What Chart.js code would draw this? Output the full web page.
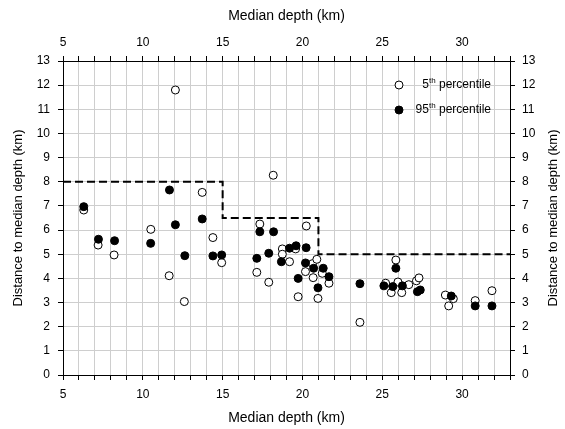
<!DOCTYPE html>
<html>
<head>
<meta charset="utf-8">
<script src="https://cdn.jsdelivr.net/npm/chart.js@4"></script>
<style>
  html, body { margin: 0; padding: 0; background: #fff; }
  #wrap { width: 565px; height: 429px; }
</style>
</head>
<body>
<div id="wrap"><canvas id="depthChart" width="565" height="429"></canvas></div>
<script>
// 5th percentile (open circles)
const depth5 = [6.3, 7.2, 8.2, 10.5, 11.65, 12.04, 12.6, 13.72, 14.39, 14.94, 17.14, 17.33, 17.89, 18.17,
    18.74, 18.74, 19.19, 19.57, 19.73, 20.19, 20.24, 20.63, 20.67, 20.9, 20.97, 21.24, 21.66, 23.6,
    25.21, 25.56, 25.85, 25.98, 26.22, 26.66, 27.14, 27.3, 28.95, 29.16, 29.45, 30.82, 31.87];
const dist5 = [6.83, 5.38, 4.97, 6.03, 4.11, 11.8, 3.04, 7.56, 5.69, 4.65, 4.25, 6.25, 3.84, 8.27,
    5.22, 5.0, 4.69, 5.22, 3.24, 4.28, 6.17, 4.61, 4.03, 4.79, 3.17, 4.21, 3.8, 2.18,
    3.8, 3.41, 4.76, 3.85, 3.41, 3.74, 3.9, 4.02, 3.31, 2.86, 3.16, 3.08, 3.49];

// 95th percentile (filled circles)
const depth95 = [6.3, 7.22, 8.23, 10.49, 11.67, 12.04, 12.63, 13.72, 14.39, 14.94, 17.14, 17.33, 17.89, 18.19,
    18.68, 19.19, 19.6, 19.73, 20.19, 20.23, 20.7, 20.97, 21.3, 21.66, 23.6,
    25.1, 25.66, 25.85, 26.26, 27.2, 27.38, 29.32, 30.82, 31.87];
const dist95 = [6.97, 5.62, 5.56, 5.45, 7.66, 6.22, 4.94, 6.46, 4.93, 4.97, 4.83, 5.93, 5.04, 5.93,
    4.69, 5.25, 5.35, 4.0, 4.64, 5.27, 4.42, 3.61, 4.42, 4.07, 3.78,
    3.69, 3.66, 4.42, 3.69, 3.45, 3.52, 3.27, 2.86, 2.86];

// dashed threshold steps
const stepDepth = [5, 15, 15, 21, 21, 33];
const stepDist = [8, 8, 6.5, 6.5, 5, 5];

const xTitle = 'Median depth (km)';
const yTitle = 'Distance to median depth (km)';
const FONT = 'Arial, "Liberation Sans", sans-serif';

const toPts = (xs, ys) => xs.map((x, i) => ({ x: x, y: ys[i] }));

// legend with superscripts + right-hand title (reads bottom to top)
const extras = {
    id: 'extras',
    afterDraw(chart) {
        const c = chart.ctx;
        c.save();
        const items = [
            { y: 85, num: '5', fill: '#fff' },
            { y: 110, num: '95', fill: '#000' }
        ];
        const right = 491;
        items.forEach(it => {
            c.beginPath();
            c.arc(399, it.y, 4, 0, Math.PI * 2);
            c.fillStyle = it.fill;
            c.fill();
            c.lineWidth = 1;
            c.strokeStyle = '#000';
            c.stroke();

            c.fillStyle = '#000';
            c.textBaseline = 'middle';
            c.textAlign = 'left';
            c.font = '12px ' + FONT;
            const rest = ' percentile';
            const wRest = c.measureText(rest).width;
            const wNum = c.measureText(it.num).width;
            c.font = '8px ' + FONT;
            const wSup = c.measureText('th').width;
            let x = right - wRest - wSup - wNum;
            c.font = '12px ' + FONT;
            c.fillText(it.num, x, it.y);
            x += wNum;
            c.font = '8px ' + FONT;
            c.fillText('th', x, it.y - 4);
            x += wSup;
            c.font = '12px ' + FONT;
            c.fillText(rest, x, it.y);
        });

        c.translate(553, 218);
        c.rotate(-Math.PI / 2);
        c.font = '13px ' + FONT;
        c.textAlign = 'center';
        c.textBaseline = 'middle';
        c.fillText(yTitle, 0, 0);
        c.restore();
    }
};

const tickFont = { family: FONT, size: 12 };
const every5 = v => (v % 5 === 0 ? v : '');

new Chart(document.getElementById('depthChart'), {
    type: 'scatter',
    data: {
        datasets: [
            {
                label: '95th percentile',
                data: toPts(depth95, dist95),
                pointRadius: 4,
                pointBackgroundColor: '#000',
                pointBorderColor: '#000',
                pointBorderWidth: 1,
                xAxisID: 'x', yAxisID: 'y'
            },
            {
                label: '5th percentile',
                data: toPts(depth5, dist5),
                pointRadius: 4,
                pointBackgroundColor: '#fff',
                pointBorderColor: '#000',
                pointBorderWidth: 1,
                xAxisID: 'x', yAxisID: 'y'
            },
            {
                type: 'line',
                label: 'threshold',
                data: toPts(stepDepth, stepDist),
                borderColor: '#000',
                borderWidth: 2,
                borderDash: [8, 4],
                pointRadius: 0,
                fill: false,
                tension: 0,
                xAxisID: 'x', yAxisID: 'y'
            }
        ]
    },
    options: {
        responsive: false,
        animation: false,
        layout: { padding: 0 },
        plugins: { legend: { display: false }, tooltip: { enabled: false } },
        scales: {
            x: {
                type: 'linear', position: 'bottom', min: 5, max: 33,
                afterFit: s => { s.height = 54; },
                ticks: { stepSize: 1, autoSkip: false, maxRotation: 0, color: '#000', font: tickFont, padding: 7, callback: every5 },
                grid: { color: '#cecece', tickColor: '#000', tickLength: 5 },
                border: { color: '#000', width: 1 },
                title: { display: true, text: xTitle, color: '#000', font: { family: FONT, size: 14 }, padding: { top: 0, bottom: 2 } }
            },
            x2: {
                type: 'linear', position: 'top', min: 5, max: 33,
                afterFit: s => { s.height = 61; },
                ticks: { stepSize: 1, autoSkip: false, maxRotation: 0, color: '#000', font: tickFont, padding: 6, callback: every5 },
                grid: { drawOnChartArea: false, tickColor: '#000', tickLength: 5 },
                border: { color: '#000', width: 1 },
                title: { display: true, text: xTitle, color: '#000', font: { family: FONT, size: 14 }, padding: { top: 8, bottom: 0 } }
            },
            y: {
                type: 'linear', position: 'left', min: 0, max: 13,
                afterFit: s => { s.width = 63; },
                ticks: { stepSize: 1, autoSkip: false, color: '#000', font: tickFont, padding: 8 },
                grid: { color: '#cecece', tickColor: '#000', tickLength: 5 },
                border: { color: '#000', width: 1 },
                title: { display: true, text: yTitle, color: '#000', font: { family: FONT, size: 13 }, padding: { top: 11, bottom: 0 } }
            },
            y2: {
                type: 'linear', position: 'right', min: 0, max: 13,
                afterFit: s => { s.width = 55; },
                ticks: { stepSize: 1, autoSkip: false, color: '#000', font: tickFont, padding: 7 },
                grid: { drawOnChartArea: false, tickColor: '#000', tickLength: 5 },
                border: { color: '#000', width: 1 }
            }
        }
    },
    plugins: [extras]
});
</script>
</body>
</html>
